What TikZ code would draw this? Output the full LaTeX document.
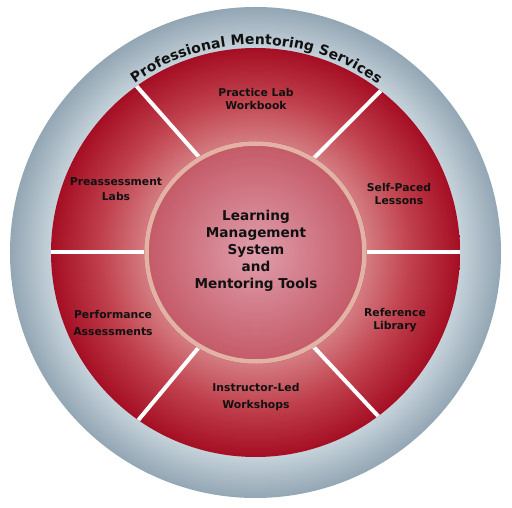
\documentclass[tikz,border=0pt]{standalone}
\usepackage{fontspec}
\setmainfont{DejaVu Sans}
\usetikzlibrary{decorations.text}
\definecolor{grayin}{HTML}{C4D1D9}
\definecolor{grayout}{HTML}{93A6B4}
\definecolor{redc}{HTML}{E0A0A6}
\definecolor{redin}{HTML}{D47C82}
\definecolor{redmid}{HTML}{C0404C}
\definecolor{redout}{HTML}{A50E24}
\definecolor{pinkc}{HTML}{E09EAC}
\definecolor{pinkout}{HTML}{C45866}
\definecolor{rimcol}{HTML}{E2B2A4}
\definecolor{txt}{HTML}{111111}
\pgfdeclareradialshading{graysh}{\pgfpoint{0bp}{0bp}}{color(0bp)=(grayin); color(20.9bp)=(grayin); color(25bp)=(grayout); color(50bp)=(grayout)}
\pgfdeclareradialshading{redsh}{\pgfpoint{0bp}{0bp}}{color(0bp)=(redc); color(13.5bp)=(redin); color(19bp)=(redmid); color(25bp)=(redout); color(50bp)=(redout)}
\pgfdeclareradialshading{pinksh}{\pgfpoint{0bp}{0bp}}{color(0bp)=(pinkc); color(25bp)=(pinkout); color(50bp)=(pinkout)}
\tikzset{
  seg/.style={font=\fontsize{10.8}{13}\selectfont\bfseries, text=txt, align=center, inner sep=0pt},
  hub/.style={font=\fontsize{13.6}{17}\selectfont\bfseries, text=txt, align=center, inner sep=0pt},
  sep/.style={draw=white, line width=4pt, line cap=butt}
}
\begin{document}
\begin{tikzpicture}[x=1pt,y=1pt]
\useasboundingbox (-255.5,-255.5) rectangle (256.5,252.5);
\fill[white] (-255.5,-255.5) rectangle (256.5,252.5);
% outer gray ring
\shade[shading=graysh] (0,0) circle (245.5);
% red disc
\shade[shading=redsh] (0,0) circle (204.5);
% separators
\begin{scope}
  \clip (0,0) circle (204.5);
  \draw[sep] (120:105) -- (125.6:206);
  \draw[sep] (59:105) -- (52.2:206);
  \draw[sep] (-120.4:105) -- (-125:206);
  \draw[sep] (-59:105) -- (-53.1:206);
  \draw[sep] (180:105) -- (180:206);
  \draw[sep] (0:105) -- (0:206);
\end{scope}
% hub
\shade[shading=pinksh] (0,0) circle (111.5);
\draw[rimcol, line width=4.5pt] (0,0) circle (109);
% title along arc
\path[decorate, decoration={text along path, text align=fit to path,
  text={|\fontsize{14}{16}\selectfont\bfseries\color{txt}|Professional Mentoring Services}}]
  (125.5:208) arc (125.5:54:208);
% labels
\node[hub] (hubtext) at (0.5,1.5) {Learning\\Management\\System\\and\\Mentoring Tools};
\node[seg] (practice) at (0.5,153.5) {Practice Lab\\Workbook};
\node[seg] (selfpaced) at (143.5,58.5) {Self-Paced\\Lessons};
\node[seg] (reference) at (139.5,-68) {Reference\\Library};
\node[seg, font=\fontsize{10.8}{16.7}\selectfont\bfseries] (instructor) at (0.5,-144.5) {Instructor-Led\\Workshops};
\node[seg, font=\fontsize{10.8}{17}\selectfont\bfseries] (performance) at (-142.5,-70) {Performance\\Assessments};
\node[seg, font=\fontsize{10.8}{15.7}\selectfont\bfseries] (preassess) at (-139.5,63.5) {Preassessment\\Labs};
\end{tikzpicture}
\end{document}
